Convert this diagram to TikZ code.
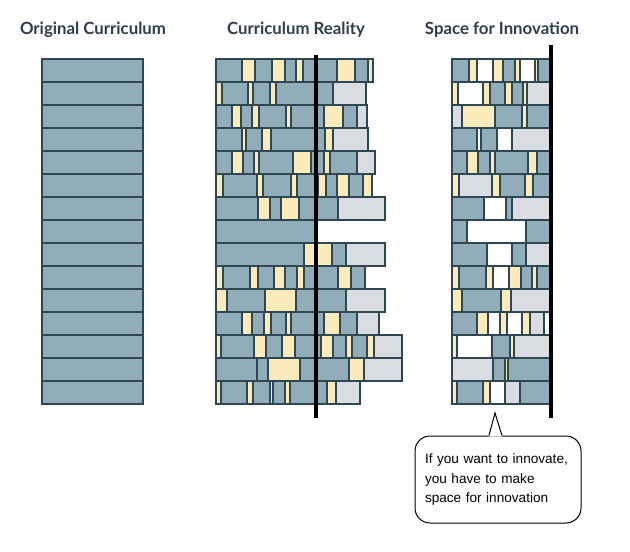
\documentclass[tikz,border=0pt]{standalone}
\usepackage{fontspec}
\setmainfont{Liberation Sans}
\newfontfamily\titlefont{Lato}
\usepackage{xcolor}
\usepackage{tikz}
\usetikzlibrary{calc}

\definecolor{slate}{HTML}{2E4753}
\definecolor{tealgray}{HTML}{91ADBA}
\definecolor{cream}{HTML}{FCEBBA}
\definecolor{mist}{HTML}{D9DDE2}
\definecolor{heading}{HTML}{2E3E4E}

\begin{document}
\begin{tikzpicture}[
    x=1pt, y=-1pt,
    line width=1.3pt,
    bb/.style={fill=tealgray, draw=slate},
    yy/.style={fill=cream, draw=slate},
    gg/.style={fill=mist, draw=slate},
    ww/.style={fill=white, draw=slate},
    title/.style={font=\titlefont\bfseries\fontsize{16.8}{20}\selectfont, text=heading},
    divider/.style={line width=3.5pt, draw=black}
]

\useasboundingbox (0,0) rectangle (630,552);

% =========================================================
% LEFT: original curriculum
% =========================================================
\node[title] (orig) at (93,30) {Original Curriculum};

\foreach \y in {59,82,...,381}
    \draw[bb] (42,\y) rectangle (143,{\y+23});

% =========================================================
% MIDDLE: curriculum reality
% =========================================================
\node[title] (real) at (296,30) {Curriculum Reality};

\foreach \y/\segs in {
    59/{216/242/bb, 242/255/yy, 255/272/bb, 272/285/yy, 285/296/bb, 296/303/yy, 303/337/bb, 337/355/yy, 355/368/bb, 368/373/yy},
    82/{216/222/yy, 222/248/bb, 248/253/yy, 253/270/bb, 270/276/yy, 276/333/bb, 333/366/gg},
    105/{216/232/bb, 232/241/yy, 241/252/bb, 252/259/yy, 259/286/bb, 286/291/yy, 291/324/bb, 324/343/yy, 343/357/bb, 357/367/gg},
    128/{216/242/bb, 242/246/yy, 246/262/bb, 262/271/yy, 271/325/bb, 325/333/yy, 333/368/gg},
    151/{216/232/bb, 232/243/yy, 243/254/bb, 254/259/yy, 259/293/bb, 293/311/yy, 311/324/bb, 324/330/yy, 330/357/bb, 357/375/gg},
    174/{216/223/yy, 223/257/bb, 257/263/yy, 263/291/bb, 291/297/yy, 297/318/bb, 318/326/yy, 326/337/bb, 337/349/yy, 349/363/bb, 363/372/yy},
    197/{216/258/bb, 258/270/yy, 270/281/bb, 281/299/yy, 299/338/bb, 338/385/gg},
    220/{216/316/bb},
    243/{216/304/bb, 304/315/yy, 315/332/yy, 332/346/bb, 346/385/gg},
    266/{216/223/yy, 223/250/bb, 250/258/yy, 258/274/bb, 274/285/yy, 285/297/bb, 297/304/yy, 304/338/bb, 338/351/yy, 351/365/bb},
    289/{216/227/yy, 227/265/bb, 265/296/yy, 296/346/bb, 346/385/gg},
    312/{216/242/bb, 242/252/yy, 252/264/bb, 264/271/yy, 271/286/bb, 286/291/yy, 291/324/bb, 324/340/yy, 340/357/bb, 357/379/gg},
    335/{216/221/yy, 221/254/bb, 254/266/yy, 266/282/bb, 282/295/yy, 295/321/bb, 321/333/yy, 333/346/bb, 346/352/yy, 352/367/bb, 367/374/yy, 374/402/gg},
    358/{216/257/bb, 257/268/bb, 268/300/yy, 300/349/bb, 349/364/yy, 364/402/gg},
    381/{216/221/yy, 221/247/bb, 247/253/yy, 253/270/bb, 270/273/yy, 273/285/bb, 285/290/yy, 290/327/bb, 327/336/yy, 336/360/gg}}
    \foreach \a/\b/\c in \segs
        \draw[\c] (\a,\y) rectangle (\b,{\y+23});

% dividing line
\draw[divider] (316,55) -- (316,418);

% =========================================================
% RIGHT: space for innovation
% =========================================================
\node[title] (space) at (502,30) {Space for Innovation};

\foreach \y/\segs in {
    59/{452/469/bb, 469/477/yy, 477/493/ww, 493/503/yy, 503/515/bb, 515/520/yy, 520/535/ww, 535/538/yy, 538/550/bb},
    82/{452/458/yy, 458/483/ww, 483/490/yy, 490/505/bb, 505/512/yy, 512/523/bb, 523/527/yy, 527/550/gg},
    105/{452/462/gg, 462/495/yy, 495/522/bb, 522/527/yy, 527/550/bb},
    128/{452/477/bb, 477/481/ww, 481/497/bb, 497/512/ww, 512/550/gg},
    151/{452/467/bb, 467/478/yy, 478/490/bb, 490/495/yy, 495/528/bb, 528/537/yy, 537/550/bb},
    174/{452/459/yy, 459/492/gg, 492/500/yy, 500/525/bb, 525/533/yy, 533/550/bb},
    197/{452/484/bb, 484/506/ww, 506/512/bb, 512/550/gg},
    220/{452/467/bb, 467/526/ww, 526/550/bb},
    243/{452/487/bb, 487/512/ww, 512/526/bb, 526/550/gg},
    266/{452/459/yy, 459/486/bb, 486/493/yy, 493/509/ww, 509/521/yy, 521/532/bb, 532/537/yy, 537/550/bb},
    289/{452/462/yy, 462/501/bb, 501/511/yy, 511/550/gg},
    312/{452/477/bb, 477/488/yy, 488/500/ww, 500/507/yy, 507/522/ww, 522/530/yy, 530/544/gg, 544/550/ww},
    335/{452/457/yy, 457/492/ww, 492/510/bb, 510/514/yy, 514/550/gg},
    358/{452/493/gg, 493/505/bb, 505/508/yy, 508/550/bb},
    381/{452/457/yy, 457/483/bb, 483/490/yy, 490/505/ww, 505/520/gg, 520/550/bb}}
    \foreach \a/\b/\c in \segs
        \draw[\c] (\a,\y) rectangle (\b,{\y+23});

% dividing line
\draw[divider] (551,45) -- (551,418);

% speech bubble
\node[draw=black, line width=1pt, fill=white, rounded corners=15pt,
      text width=146pt, inner xsep=10pt, minimum height=87pt, align=left,
      font=\fontsize{13.6}{19.5}\selectfont] (note) at (498,479.5)
    {If you want to innovate,\\ you have to make\\ space for innovation};
\coordinate (tip) at (495,413);
\fill[white] ($(note.north)+(-9,1)$) -- (tip) -- ($(note.north)+(4,1)$) -- cycle;
\draw[line width=1pt] ($(note.north)+(-9,0)$) -- (tip) -- ($(note.north)+(4,0)$);

\end{tikzpicture}
\end{document}
